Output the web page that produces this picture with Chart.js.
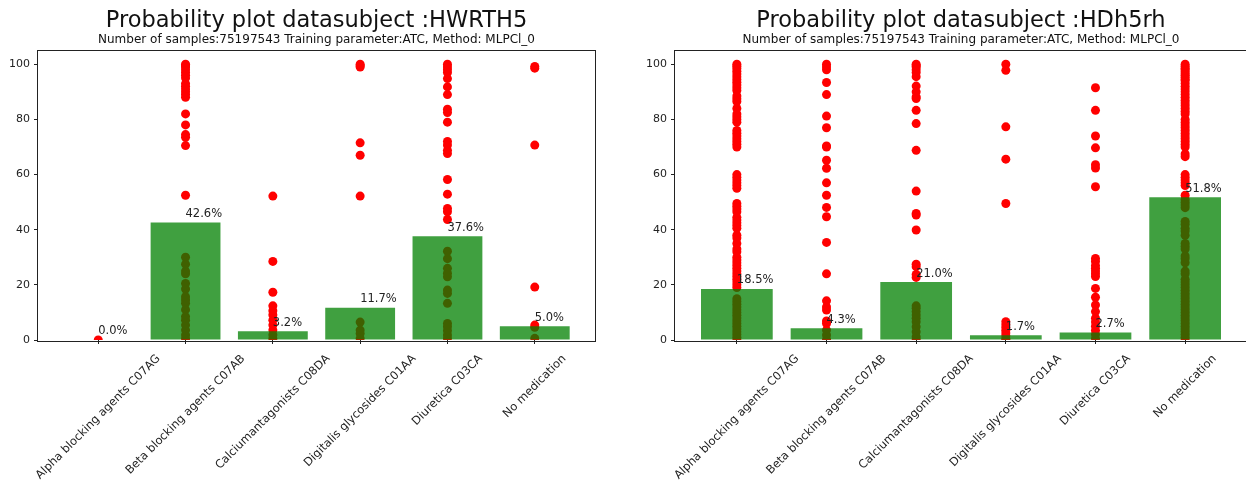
<!DOCTYPE html>
<html>
<head>
<meta charset="utf-8">
<script src="https://cdn.jsdelivr.net/npm/chart.js@4.4.1/dist/chart.umd.min.js"></script>
<style>
  html, body { margin: 0; padding: 0; background: #fff; overflow: hidden; width: 1246px; height: 490px; }
  .panel { position: absolute; top: 0; height: 490px; }
  #p1 { left: 0; width: 633px; }
  #p2 { left: 637px; width: 648px; }
</style>
</head>
<body>
<div class="panel" id="p1"><canvas id="chartLeft"></canvas></div>
<div class="panel" id="p2"><canvas id="chartRight"></canvas></div>
<script>
var categories = ['Alpha blocking agents C07AG', 'Beta blocking agents C07AB', 'Calciumantagonists C08DA',
  'Digitalis glycosides C01AA', 'Diuretica C03CA', 'No medication'];
var yTicks = [0, 20, 40, 60, 80, 100];
var subtitleText = 'Number of samples:75197543 Training parameter:ATC, Method: MLPCl_0';

// left panel: HWRTH5
var leftTitle = 'Probability plot datasubject :HWRTH5';
var leftBars = [0.0, 42.6, 3.2, 11.7, 37.6, 5.0];
var leftPoints = [
  [0],
  [100, 99.5, 99, 98, 97, 96, 95, 93, 92, 91, 90, 89, 88, 82, 78, 74.5, 73.5, 70.5, 52.5,
   30, 27.5, 25, 24, 20.5, 18.5, 15.7, 14.5, 13.3, 11, 8.5, 7.2, 5.4, 3.6, 1.8, 0.5],
  [52.2, 28.5, 17.3, 12.4, 10.6, 9.1, 7.2, 5.4, 3.6, 1.8, 0.5],
  [100, 99.5, 99, 71.5, 67, 52.2, 6.5, 3.6, 2.4, 0.6],
  [100, 99, 98, 97, 94.8, 91.8, 89, 83.7, 82.5, 79, 72, 70.7, 68.8, 67.6, 58.2, 52.9, 47.7, 46.5, 43.7,
   32.2, 29.5, 26, 24.2, 22.9, 18.1, 16.9, 13.3, 6, 4.8, 3.4, 1.8, 0.6],
  [99.2, 98.6, 70.7, 19.2, 5.4, 4.6, 0.6]
];

// right panel: HDh5rh
var rightTitle = 'Probability plot datasubject :HDh5rh';
var rightBars = [18.5, 4.3, 21.0, 1.7, 2.7, 51.8];
var rightPoints = [
  [100, 99.3, 98.5, 97.5, 96.5, 95.5, 94.5, 93.5, 92.5, 91.5, 90.5, 88.5, 87.5, 86.5, 84, 82, 81, 80, 79,
   76, 75, 74, 73, 72, 71, 70, 60, 59, 58, 57, 56, 55, 49.5, 48.5, 47.5, 46.5, 44.5, 43.5, 42.5, 41.5, 40.5,
   38, 37, 35, 33, 32, 30, 29, 28, 27, 26, 25, 24, 23, 22, 21, 20, 19, 15, 14, 13, 12, 11, 10, 9, 8, 7, 6,
   5, 4, 3, 2, 1, 0],
  [100, 99, 98, 93.4, 89, 81.2, 77, 70.4, 70, 65.2, 62.3, 57, 52.5, 48.1, 44.7, 35.4, 24, 14.2, 12, 10.9,
   6.9, 6, 3.6, 1.8, 0.2],
  [100, 99.5, 99, 98, 97, 95.5, 92.1, 90, 88.2, 87.6, 83.3, 78.5, 68.8, 54, 45.9, 45.3, 39.9, 27.5, 26.6,
   23.8, 22.7, 12.4, 11.5, 10.3, 9.1, 7.9, 6.6, 4.8, 3, 1.2, 0.2],
  [100, 97.8, 77.3, 65.6, 49.5, 6.6, 5.5, 4.5, 3.5, 2.5, 1.5, 0.5, 0],
  [91.5, 83.3, 74, 69.7, 63.6, 62.4, 55.6, 29.6, 28.5, 27, 26, 25, 24, 23, 18.7, 15.5, 12.7, 10.3, 7.9,
   6.5, 5, 3.5, 2, 0.5],
  [100, 99.3, 98.6, 98, 97.3, 96.6, 96, 95.3, 94.6, 94, 93, 92, 91, 90, 89, 88, 87, 86, 85, 84, 83, 82,
   80, 79, 78, 77, 76, 75, 74, 73, 72, 71, 70, 67.5, 66.5, 60, 59, 58, 57, 56, 52.5, 51, 50, 49, 48, 43,
   42, 40.5, 39.5, 38, 35, 34, 33, 30.5, 29.5, 28, 25, 24, 22, 21, 20, 19, 18, 17, 16, 15, 14, 13, 12,
   11, 10, 9, 8, 7, 6, 5, 4, 3, 2, 1, 0]
];

var FONT = '"DejaVu Sans", "Liberation Sans", sans-serif';
var TEXT = '#222';

// percent labels above bars + full frame around the plot area
var barLabelPlugin = {
  id: 'barLabels',
  afterDatasetsDraw: function (chart) {
    var ctx = chart.ctx, xs = chart.scales.x, ys = chart.scales.y, a = chart.chartArea;
    var bars = chart.data.datasets[0].data;
    ctx.save();
    ctx.font = '11.5px ' + FONT;
    ctx.fillStyle = TEXT;
    ctx.textAlign = 'left';
    ctx.textBaseline = 'bottom';
    bars.forEach(function (p) {
      ctx.fillText(p.y.toFixed(1) + '%', xs.getPixelForValue(p.x), ys.getPixelForValue(p.y + 1));
    });
    ctx.strokeStyle = '#222';
    ctx.lineWidth = 1;
    ctx.strokeRect(Math.round(a.left) - 0.5, Math.round(a.top) - 0.5,
      Math.round(a.right - a.left) + 1, Math.round(a.bottom - a.top) + 1);
    ctx.restore();
  }
};

// rotated category labels, centred on their tick like matplotlib's rotation=45
var xLabelPlugin = {
  id: 'xLabels',
  afterDraw: function (chart) {
    var ctx = chart.ctx, xs = chart.scales.x, top = chart.chartArea.bottom + 12;
    ctx.save();
    ctx.font = '11.5px ' + FONT;
    ctx.fillStyle = TEXT;
    ctx.textAlign = 'center';
    ctx.textBaseline = 'middle';
    categories.forEach(function (label, i) {
      var w = ctx.measureText(label).width;
      var half = (w + 14) / Math.SQRT2 / 2;
      ctx.save();
      ctx.translate(xs.getPixelForValue(i), top + half);
      ctx.rotate(-Math.PI / 4);
      ctx.fillText(label, 0, 0);
      ctx.restore();
    });
    ctx.restore();
  }
};

function makeChart(id, title, bars, points) {
  var barData = bars.map(function (v, i) { return { x: i, y: v }; });
  var dotData = [];
  points.forEach(function (vals, i) {
    vals.forEach(function (v) { dotData.push({ x: i, y: v }); });
  });

  return new Chart(document.getElementById(id), {
    type: 'bar',
    data: {
      datasets: [{
        type: 'bar',
        data: barData,
        backgroundColor: 'rgba(0,128,0,0.75)',
        borderWidth: 0,
        barPercentage: 1.0,
        categoryPercentage: 0.8,
        order: 1
      }, {
        type: 'scatter',
        data: dotData,
        backgroundColor: '#ff0000',
        borderWidth: 0,
        pointRadius: 4.5,
        order: 2
      }]
    },
    options: {
      responsive: true,
      maintainAspectRatio: false,
      devicePixelRatio: 1,
      animation: false,
      layout: { padding: 0 },
      plugins: {
        legend: { display: false },
        tooltip: { enabled: false },
        title: {
          display: true,
          text: title,
          color: '#111',
          font: { family: FONT, size: 22.5, weight: 'normal', lineHeight: 1 },
          padding: { top: 10, bottom: 0 }
        },
        subtitle: {
          display: true,
          text: subtitleText,
          color: '#111',
          font: { family: FONT, size: 12, weight: 'normal', lineHeight: 1 },
          padding: { top: 1, bottom: 5 }
        }
      },
      scales: {
        x: {
          type: 'linear',
          offset: false,
          min: -0.69,
          max: 5.69,
          afterBuildTicks: function (scale) {
            scale.ticks = categories.map(function (c, i) { return { value: i }; });
          },
          afterFit: function (scale) { scale.height = 150; },
          ticks: { display: false },
          grid: { offset: false, drawOnChartArea: false, drawTicks: true, tickLength: 4, color: '#222' },
          border: { display: false }
        },
        y: {
          min: 0,
          max: 105,
          afterBuildTicks: function (scale) {
            scale.ticks = yTicks.map(function (v) { return { value: v }; });
          },
          afterFit: function (scale) { scale.width = 38; },
          ticks: { color: TEXT, padding: 4, font: { family: FONT, size: 11 } },
          grid: { drawOnChartArea: false, drawTicks: true, tickLength: 4, color: '#222' },
          border: { display: false }
        },
        y2: {
          position: 'right',
          display: true,
          afterFit: function (scale) { scale.width = 38; },
          ticks: { display: false },
          grid: { display: false },
          border: { display: false }
        }
      }
    },
    plugins: [barLabelPlugin, xLabelPlugin]
  });
}

makeChart('chartLeft', leftTitle, leftBars, leftPoints);
makeChart('chartRight', rightTitle, rightBars, rightPoints);
</script>
</body>
</html>
